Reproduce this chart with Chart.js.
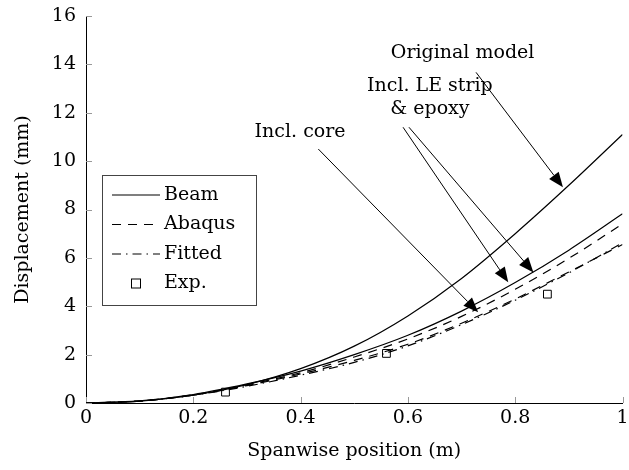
<!DOCTYPE html>
<html>
<head>
<meta charset="utf-8">
<script src="https://cdn.jsdelivr.net/npm/chart.js@4"></script>
<style>
  html, body { margin: 0; padding: 0; background: #fff; }
</style>
</head>
<body>
<canvas id="chart" width="629" height="470"></canvas>
<script>
// spanwise stations (m) and displacements (mm)
const positions = [0, 0.1, 0.2, 0.3, 0.4, 0.5, 0.6, 0.7, 0.8, 0.9, 1];
const beamOriginal = [0, 0.08, 0.32, 0.76, 1.42, 2.35, 3.6, 5.15, 7.0, 9.0, 11.1];
const beamLE = [0, 0.09, 0.35, 0.79, 1.32, 2.0, 2.8, 3.8, 4.98, 6.32, 7.82];
const abaqusLE = [0, 0.08, 0.34, 0.75, 1.25, 1.9, 2.65, 3.58, 4.7, 5.98, 7.4];
const abaqusCore = [0, 0.08, 0.33, 0.72, 1.2, 1.76, 2.43, 3.3, 4.3, 5.42, 6.55];
const fittedCore = [0, 0.08, 0.32, 0.69, 1.15, 1.68, 2.36, 3.24, 4.25, 5.38, 6.62];

const expPositions = [0.26, 0.56, 0.86];
const expValues = [0.45, 2.05, 4.5];

const xTickLabels = ["0", "0.2", "0.4", "0.6", "0.8", "1"];
const yTickLabels = ["0", "2", "4", "6", "8", "10", "12", "14", "16"];
const legendLabels = ["Beam", "Abaqus", "Fitted", "Exp."];

const FONT = "DejaVu Serif";
Chart.defaults.font.family = FONT;
Chart.defaults.font.size = 19;
Chart.defaults.color = "#000";

const DASHED = [9, 7];
const DASHDOT = [9, 5, 1.5, 5];

const toPoints = (ys) => ys.map((y, i) => ({ x: positions[i], y: y }));

const lineSet = (ys, dash) => ({
  data: toPoints(ys),
  borderColor: "#000",
  borderWidth: 1.2,
  borderDash: dash,
  pointRadius: 0,
  fill: false,
  cubicInterpolationMode: "monotone",
});

// annotation texts with arrows, anchored in data units
const notes = [
  { lines: ["Original model"], at: [0.702, 14.48], arrows: [[0.727, 13.67, 0.889, 8.92]] },
  { lines: ["Incl. LE strip", "& epoxy"], at: [0.641, 13.12],
    arrows: [[0.591, 11.4, 0.787, 4.99], [0.602, 11.4, 0.834, 5.4]] },
  { lines: ["Incl. core"], at: [0.399, 11.22], arrows: [[0.433, 10.5, 0.731, 3.75]] },
];

const innerTicks = {
  id: "innerTicks",
  beforeDatasetsDraw(chart) {
    const { ctx, scales: { x, y } } = chart;
    ctx.save();
    ctx.strokeStyle = "#999";
    ctx.lineWidth = 1;
    ctx.beginPath();
    y.ticks.forEach((t) => {
      const py = Math.round(y.getPixelForValue(t.value)) + 0.5;
      ctx.moveTo(x.left, py);
      ctx.lineTo(x.left + 6, py);
    });
    x.ticks.forEach((t) => {
      const px = Math.round(x.getPixelForValue(t.value)) + 0.5;
      ctx.moveTo(px, y.bottom);
      ctx.lineTo(px, y.bottom - 6);
    });
    ctx.stroke();
    ctx.restore();
  },
};

function arrow(ctx, x0, y0, x1, y1) {
  const ang = Math.atan2(y1 - y0, x1 - x0);
  const len = 15, half = 6;
  const bx = x1 - len * Math.cos(ang), by = y1 - len * Math.sin(ang);
  ctx.beginPath();
  ctx.moveTo(x0, y0);
  ctx.lineTo(bx, by);
  ctx.stroke();
  ctx.beginPath();
  ctx.moveTo(x1, y1);
  ctx.lineTo(bx + half * Math.sin(ang), by - half * Math.cos(ang));
  ctx.lineTo(bx - half * Math.sin(ang), by + half * Math.cos(ang));
  ctx.closePath();
  ctx.fill();
}

const annotations = {
  id: "annotations",
  afterDatasetsDraw(chart) {
    const { ctx, scales: { x, y } } = chart;
    ctx.save();
    ctx.fillStyle = "#000";
    ctx.strokeStyle = "#000";
    ctx.lineWidth = 1;
    ctx.font = "19px " + FONT;
    ctx.textAlign = "center";
    ctx.textBaseline = "middle";
    notes.forEach((n) => {
      const cx = x.getPixelForValue(n.at[0]);
      const cy = y.getPixelForValue(n.at[1]);
      n.lines.forEach((s, i) => ctx.fillText(s, cx, cy + i * 23));
      n.arrows.forEach((a) => {
        arrow(ctx, x.getPixelForValue(a[0]), y.getPixelForValue(a[1]),
          x.getPixelForValue(a[2]), y.getPixelForValue(a[3]));
      });
    });
    ctx.restore();
  },
};

const boxLegend = {
  id: "boxLegend",
  afterDatasetsDraw(chart) {
    const { ctx } = chart;
    const left = 102, top = 175, w = 154, h = 130;
    const rowY = [195, 224.5, 254, 283.5];
    ctx.save();
    ctx.fillStyle = "#fff";
    ctx.fillRect(left, top, w, h);
    ctx.strokeStyle = "#444";
    ctx.lineWidth = 1;
    ctx.strokeRect(left + 0.5, top + 0.5, w, h);
    const dashes = [[], DASHED, DASHDOT];
    ctx.strokeStyle = "#000";
    ctx.lineWidth = 1.2;
    dashes.forEach((d, i) => {
      ctx.setLineDash(d);
      ctx.beginPath();
      ctx.moveTo(112, rowY[i]);
      ctx.lineTo(160, rowY[i]);
      ctx.stroke();
    });
    ctx.setLineDash([]);
    ctx.lineWidth = 1;
    ctx.strokeRect(131.5, rowY[3] - 4.5, 9, 9);
    ctx.fillStyle = "#000";
    ctx.font = "19px " + FONT;
    ctx.textAlign = "left";
    ctx.textBaseline = "middle";
    legendLabels.forEach((s, i) => ctx.fillText(s, 164, rowY[i]));
    ctx.restore();
  },
};

const config = {
  type: "line",
  data: {
    datasets: [
      lineSet(beamOriginal, []),
      lineSet(beamLE, []),
      lineSet(abaqusLE, DASHED),
      lineSet(abaqusCore, DASHED),
      lineSet(fittedCore, DASHDOT),
      {
        type: "scatter",
        data: expPositions.map((p, i) => ({ x: p, y: expValues[i] })),
        pointStyle: "rect",
        pointRadius: 5.5,
        pointBackgroundColor: "#fff",
        pointBorderColor: "#000",
        pointBorderWidth: 1,
        showLine: false,
      },
    ],
  },
  options: {
    responsive: false,
    animation: false,
    devicePixelRatio: 1,
    layout: { padding: { top: 16, right: 2, left: 0, bottom: 0 } },
    plugins: { legend: { display: false }, tooltip: { enabled: false } },
    scales: {
      x: {
        type: "linear",
        min: 0,
        max: 1,
        grid: { display: false, drawTicks: false },
        border: { display: true, color: "#000", width: 1 },
        ticks: {
          stepSize: 0.2,
          padding: 4,
          maxRotation: 0,
          callback: (v, i) => xTickLabels[i],
        },
        title: {
          display: true,
          text: "Spanwise position (m)",
          padding: { top: 0, bottom: 8 },
        },
        afterFit(scale) {
          scale.height = 67;
          scale.paddingLeft = 0;
          scale.paddingRight = 0;
        },
      },
      y: {
        min: 0,
        max: 16,
        grid: { display: false, drawTicks: false },
        border: { display: true, color: "#000", width: 1 },
        ticks: {
          stepSize: 2,
          padding: 10,
          callback: (v, i) => yTickLabels[i],
        },
        title: {
          display: true,
          text: "Displacement (mm)",
          padding: { top: 12, bottom: 0 },
        },
        afterFit(scale) {
          scale.width = 86;
          scale.paddingTop = 0;
          scale.paddingBottom = 0;
        },
      },
    },
  },
  plugins: [innerTicks, annotations, boxLegend],
};

const chart = new Chart(document.getElementById("chart"), config);
</script>
</body>
</html>
